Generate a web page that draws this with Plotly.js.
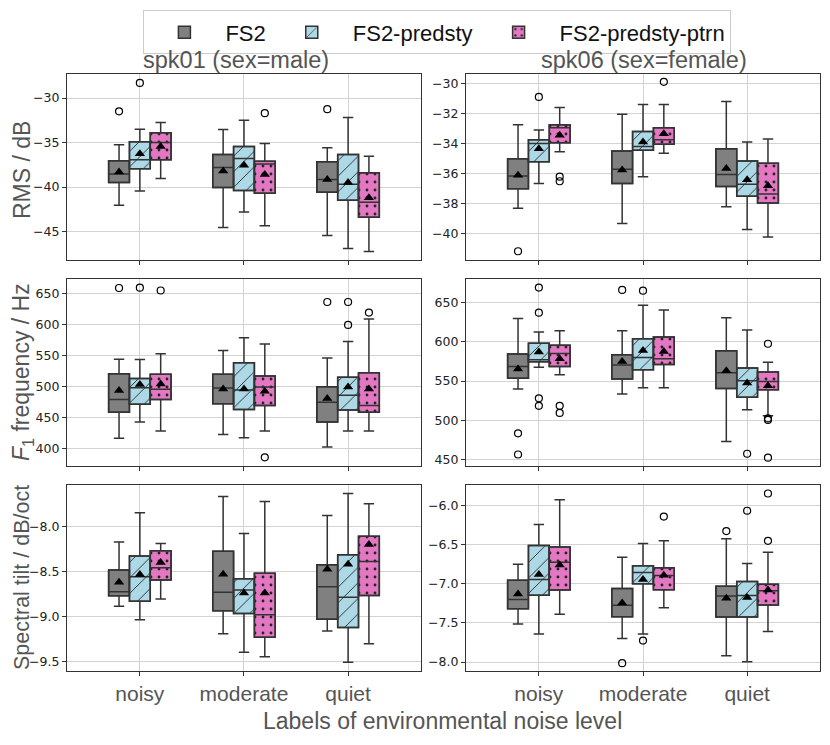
<!DOCTYPE html>
<html>
<head>
<meta charset="utf-8">
<script src="https://cdn.plot.ly/plotly-3.0.1.min.js"></script>
<style>
  body { margin: 0; background: #fff; }
  #chart { width: 830px; height: 745px; }
</style>
</head>
<body>
<div id="chart"></div>
<script>
// noise levels and systems
var levels = ['noisy', 'moderate', 'quiet'];
var systems = ['FS2', 'FS2-predsty', 'FS2-predsty-ptrn'];

// RMS / dB, spk01 (male)
var rms_m_fs2 = {
  q1: [-39.5, -40.05, -40.6], med: [-38.55, -37.8, -39.15], q3: [-37.05, -36.35, -37.15],
  lo: [-42.05, -44.55, -45.45], hi: [-35.25, -33.55, -35.6], mean: [-38.3, -38.2, -39.15],
  out: [[-31.5], [], [-31.25]]
};
var rms_m_sty = {
  q1: [-37.95, -40.4, -41.5], med: [-36.95, -36.8, -39.7], q3: [-34.9, -35.45, -36.35],
  lo: [-40.45, -42.8, -46.9], hi: [-33.5, -32.5, -32.2], mean: [-36.25, -37.55, -39.5],
  out: [[-28.3], [], []]
};
var rms_m_ptrn = {
  q1: [-36.95, -40.7, -43.4], med: [-35.0, -37.4, -41.7], q3: [-33.9, -37.1, -38.4],
  lo: [-39.05, -44.35, -47.25], hi: [-32.75, -35.1, -36.55], mean: [-35.45, -38.6, -41.2],
  out: [[], [-31.7], []]
};

// RMS / dB, spk06 (female)
var rms_f_fs2 = {
  q1: [-37.0, -36.65, -36.85], med: [-36.15, -35.7, -36.05], q3: [-35.0, -34.5, -34.35],
  lo: [-38.3, -39.3, -38.2], hi: [-32.75, -32.05, -31.2], mean: [-36.1, -35.75, -35.65],
  out: [[-41.15], [], []]
};
var rms_f_sty = {
  q1: [-35.2, -34.45, -37.5], med: [-34.0, -34.2, -36.7], q3: [-33.75, -33.2, -35.15],
  lo: [-36.65, -36.2, -39.7], hi: [-33.1, -31.4, -33.9], mean: [-34.35, -33.9, -36.4],
  out: [[-30.9], [], []]
};
var rms_f_ptrn = {
  q1: [-33.95, -34.05, -37.95], med: [-32.95, -33.75, -37.35], q3: [-32.75, -32.95, -35.3],
  lo: [-34.55, -34.65, -40.2], hi: [-31.6, -31.4, -33.7], mean: [-33.45, -33.35, -36.8],
  out: [[-36.2, -36.5], [-29.9], []]
};

// F1 frequency / Hz, spk01
var f1_m_fs2 = {
  q1: [458.5, 472, 443], med: [479, 497.5, 474.5], q3: [520.5, 519.5, 499.5],
  lo: [416.5, 422.5, 402.5], hi: [544, 558, 546], mean: [493.5, 496, 480.5],
  out: [[658.5], [], [636]]
};
var f1_m_sty = {
  q1: [471.5, 463, 462], med: [498, 494.5, 486], q3: [513, 538, 515],
  lo: [443, 417.5, 428.5], hi: [543.5, 578.5, 572.5], mean: [503, 496, 499],
  out: [[659], [], [636, 599]]
};
var f1_m_ptrn = {
  q1: [479, 469.5, 458.5], med: [495.5, 499, 469.5], q3: [519.5, 517, 522],
  lo: [428.5, 428.5, 428.5], hi: [552.5, 568.5, 608.5], mean: [504, 492.5, 496],
  out: [[654.5], [386], [619]]
};

// F1 frequency / Hz, spk06
var f1_f_fs2 = {
  q1: [553.5, 552.5, 540.5], med: [568.5, 570.5, 560.5], q3: [584.5, 583.5, 588.5],
  lo: [540, 533.5, 473], hi: [629.5, 614, 630.5], mean: [565.5, 575, 563],
  out: [[483.5, 456.5], [666], []]
};
var f1_f_sty = {
  q1: [574.5, 564.5, 529.5], med: [577, 580, 550.5], q3: [598, 604, 566.5],
  lo: [567.5, 541.5, 513.5], hi: [612.5, 646.5, 615], mean: [587, 589, 547.5],
  out: [[669, 637, 528, 518.5], [665], [457.5]]
};
var f1_f_ptrn = {
  q1: [568.5, 571, 539], med: [585, 578.5, 549.5], q3: [595.5, 606, 561.5],
  lo: [558, 541.5, 506], hi: [614, 640.5, 574], mean: [578.5, 587.5, 544],
  out: [[518.5, 509.5], [], [597.5, 502.5, 500.5, 452.5]]
};

// Spectral tilt / dB/oct, spk01
var tilt_m_fs2 = {
  q1: [-8.77, -8.935, -9.03], med: [-8.725, -8.73, -8.67], q3: [-8.485, -8.275, -8.425],
  lo: [-8.885, -9.19, -9.16], hi: [-8.175, -7.67, -7.88], mean: [-8.62, -8.53, -8.475],
  out: [[], [], []]
};
var tilt_m_sty = {
  q1: [-8.83, -8.965, -9.12], med: [-8.56, -8.705, -8.785], q3: [-8.33, -8.58, -8.315],
  lo: [-9.035, -9.395, -9.505], hi: [-7.85, -8.08, -7.635], mean: [-8.535, -8.74, -8.42],
  out: [[], [], []]
};
var tilt_m_ptrn = {
  q1: [-8.595, -9.23, -8.765], med: [-8.46, -8.98, -8.39], q3: [-8.27, -8.52, -8.11],
  lo: [-8.805, -9.445, -9.3], hi: [-8.19, -7.725, -7.75], mean: [-8.4, -8.74, -8.2],
  out: [[], [], []]
};

// Spectral tilt / dB/oct, spk06
var tilt_f_fs2 = {
  q1: [-7.32, -7.42, -7.425], med: [-7.2, -7.275, -7.155], q3: [-6.955, -7.06, -7.03],
  lo: [-7.515, -7.7, -7.92], hi: [-6.75, -6.66, -6.425], mean: [-7.13, -7.245, -7.185],
  out: [[], [-8.015], [-6.325]]
};
var tilt_f_sty = {
  q1: [-7.145, -7.0, -7.425], med: [-6.945, -6.855, -7.15], q3: [-6.51, -6.77, -6.97],
  lo: [-7.64, -7.64, -7.995], hi: [-6.24, -6.485, -6.74], mean: [-6.88, -6.945, -7.175],
  out: [[], [-7.725], [-6.065]]
};
var tilt_f_ptrn = {
  q1: [-7.08, -7.075, -7.27], med: [-6.725, -6.895, -7.09], q3: [-6.53, -6.795, -7.005],
  lo: [-7.39, -7.305, -7.61], hi: [-5.925, -6.45, -6.595], mean: [-6.76, -6.89, -7.08],
  out: [[], [-6.14], [-5.845, -6.45]]
};

// panels in subplot order (1..6)
var panels = [
  [rms_m_fs2, rms_m_sty, rms_m_ptrn],
  [rms_f_fs2, rms_f_sty, rms_f_ptrn],
  [f1_m_fs2, f1_m_sty, f1_m_ptrn],
  [f1_f_fs2, f1_f_sty, f1_f_ptrn],
  [tilt_m_fs2, tilt_m_sty, tilt_m_ptrn],
  [tilt_f_fs2, tilt_f_sty, tilt_f_ptrn]
];

var fills = ['#808080', '#add8e6', '#e377c2'];
var patterns = [
  {shape: ''},
  {shape: '/', fgcolor: '#222', bgcolor: '#add8e6', size: 11, solidity: 0.08},
  {shape: '.', fgcolor: '#222', bgcolor: '#e377c2', size: 8, solidity: 0.1}
];
var edge = '#333';
var bw = 0.2;
var offsets = [-bw, 0, bw];
var levelPos = levels.map(function (l, i) { return i; });

var data = [];
panels.forEach(function (panel, p) {
  var xa = 'x' + (p === 0 ? '' : p + 1);
  var ya = 'y' + (p === 0 ? '' : p + 1);
  panel.forEach(function (s, k) {
    var xs = levelPos.map(function (i) { return i + offsets[k]; });
    // filled box body (bar from q1 to q3) with hatch
    data.push({
      type: 'bar', x: xs, base: s.q1,
      y: s.q3.map(function (v, i) { return v - s.q1[i]; }),
      width: bw, xaxis: xa, yaxis: ya,
      name: systems[k], legendgroup: systems[k], showlegend: p === 0,
      marker: {color: fills[k], pattern: patterns[k], line: {color: edge, width: 1.5}},
      hoverinfo: 'skip'
    });
    // median, whiskers, outline
    data.push({
      type: 'box', x: xs, q1: s.q1, median: s.med, q3: s.q3,
      lowerfence: s.lo, upperfence: s.hi,
      width: bw, whiskerwidth: 0.5, xaxis: xa, yaxis: ya,
      fillcolor: 'rgba(0,0,0,0)', line: {color: edge, width: 1.5},
      showlegend: false, hoverinfo: 'skip'
    });
    // mean markers
    data.push({
      type: 'scatter', mode: 'markers', x: xs, y: s.mean, xaxis: xa, yaxis: ya,
      marker: {symbol: 'triangle-up', size: 9, color: '#000'},
      showlegend: false, hoverinfo: 'skip'
    });
    // outliers
    var ox = [], oy = [];
    s.out.forEach(function (arr, i) {
      arr.forEach(function (v) { ox.push(xs[i]); oy.push(v); });
    });
    data.push({
      type: 'scatter', mode: 'markers', x: ox, y: oy, xaxis: xa, yaxis: ya,
      marker: {symbol: 'circle-open', size: 7, color: '#000', line: {width: 1.2}},
      showlegend: false, hoverinfo: 'skip'
    });
  });
});

var colDom = [[0.0807, 0.5072], [0.5614, 0.9880]];
var rowDom = [[0.651, 0.9007], [0.3745, 0.6255], [0.0993, 0.349]];
var yRanges = [[-48.2, -27.3], [-41.73, -29.38], [372, 673], [441.9, 679.9], [-9.603, -7.542], [-8.115, -5.736]];
var yDticks = [5, 2, 50, 50, 0.5, 0.5];
var yFormats = ['', '', '', '', '.1f', '.1f'];

var fam = 'Liberation Sans, Arial, sans-serif';
var tickFont = {family: 'DejaVu Sans', size: 12.5, color: '#222'};

function label(text, px, py, size, angle) {
  return {text: text, x: px / 830, y: 1 - py / 745, xref: 'paper', yref: 'paper',
    xanchor: 'center', yanchor: 'middle', textangle: angle || 0,
    showarrow: false, font: {family: fam, size: size, color: '#555'}};
}

var layout = {
  width: 830, height: 745,
  margin: {l: 0, r: 0, t: 0, b: 0},
  paper_bgcolor: '#fff', plot_bgcolor: '#fff',
  barmode: 'overlay', boxmode: 'overlay',
  showlegend: true,
  legend: {
    orientation: 'h', x: 0.527, xanchor: 'center', y: 0.986, yanchor: 'top',
    bordercolor: '#ccc', borderwidth: 1,
    font: {family: fam, size: 22, color: '#111'},
    itemwidth: 72
  },
  annotations: [
    label('spk01 (sex=male)', 236, 60, 23.5),
    label('spk06 (sex=female)', 644, 60, 23.5),
    label('RMS / dB', 22, 170, 23, -90),
    label('<i>F</i><sub>1</sub> frequency / Hz', 22, 372, 23, -90),
    label('Spectral tilt / dB/oct', 22, 578, 21.5, -90),
    label('Labels of environmental noise level', 442, 721, 23)
  ]
};

for (var p = 0; p < 6; p++) {
  var sfx = p === 0 ? '' : String(p + 1);
  var col = p % 2, row = Math.floor(p / 2);
  layout['xaxis' + sfx] = {
    domain: colDom[col], anchor: 'y' + sfx, range: [-0.7, 2.7],
    tickmode: 'array', tickvals: levelPos, ticktext: levels,
    showticklabels: row === 2, ticks: 'outside', ticklen: 4, tickcolor: '#333',
    tickfont: {family: fam, size: 21, color: '#555'},
    showgrid: true, gridcolor: '#d3d3d3', gridwidth: 1, zeroline: false,
    showline: true, mirror: true, linecolor: '#333', linewidth: 1
  };
  layout['yaxis' + sfx] = {
    domain: rowDom[row], anchor: 'x' + sfx, range: yRanges[p],
    dtick: yDticks[p], tickformat: yFormats[p],
    ticks: 'outside', ticklen: 4, tickcolor: '#333', tickfont: tickFont,
    showgrid: true, gridcolor: '#d3d3d3', gridwidth: 1, zeroline: false,
    showline: true, mirror: true, linecolor: '#333', linewidth: 1
  };
}

Plotly.newPlot('chart', data, layout, {displayModeBar: false, staticPlot: true});
</script>
</body>
</html>
